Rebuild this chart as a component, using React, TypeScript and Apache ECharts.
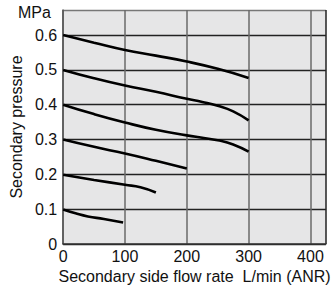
import React, { useEffect, useRef } from "react";
import * as echarts from "echarts";

const flowRates06 = [0, 50, 100, 150, 200, 250, 300];
const pressure06 = [0.6, 0.578, 0.557, 0.541, 0.524, 0.503, 0.477];
const flowRates05 = [0, 50, 100, 150, 200, 225, 250, 275, 300];
const pressure05 = [0.5, 0.476, 0.455, 0.437, 0.417, 0.408, 0.397, 0.381, 0.355];
const flowRates04 = [0, 50, 100, 150, 200, 225, 250, 275, 300];
const pressure04 = [0.4, 0.373, 0.349, 0.328, 0.312, 0.305, 0.298, 0.286, 0.265];
const flowRates03 = [0, 50, 100, 150, 200];
const pressure03 = [0.3, 0.279, 0.26, 0.239, 0.217];
const flowRates02 = [0, 50, 100, 125, 150];
const pressure02 = [0.199, 0.184, 0.17, 0.163, 0.148];
const flowRates01 = [0, 20, 40, 66, 97];
const pressure01 = [0.099, 0.088, 0.079, 0.072, 0.062];

const xTicks = [0, 100, 200, 300, 400];
const yTicks = [0, 0.1, 0.2, 0.3, 0.4, 0.5, 0.6];

const FONT = "'Liberation Sans', Arial, Helvetica, sans-serif";

const pairs = (xs: number[], ys: number[]) => xs.map((x, i) => [x, ys[i]]);

export default function App() {
  const ref = useRef<HTMLDivElement>(null);
  useEffect(() => {
    document.body.style.margin = "0";
    const chart = echarts.init(ref.current!, null, { renderer: "svg" });
    const curves = [
      pairs(flowRates06, pressure06),
      pairs(flowRates05, pressure05),
      pairs(flowRates04, pressure04),
      pairs(flowRates03, pressure03),
      pairs(flowRates02, pressure02),
      pairs(flowRates01, pressure01),
    ];
    chart.setOption({
      animation: false,
      grid: {
        left: 58,
        right: 1,
        top: 10,
        bottom: 47,
        show: true,
        backgroundColor: "#e6e6e7",
        borderWidth: 0,
      },
      xAxis: {
        type: "value",
        min: 0,
        max: 425,
        interval: 100,
        name: "Secondary side flow rate  L/min (ANR)",
        nameLocation: "middle",
        nameGap: 23,
        nameTextStyle: { fontFamily: FONT, fontSize: 16, color: "#111" },
        axisLine: { show: true, lineStyle: { color: "#333", width: 1.5 } },
        axisTick: { show: false },
        axisLabel: {
          showMaxLabel: false,
          fontFamily: FONT,
          fontSize: 16,
          color: "#111",
          margin: 4,
          formatter: (v: number) => (xTicks.includes(v) ? String(v) : ""),
        },
        splitLine: {
          show: true,
          lineStyle: {
            color: ["#6a6a6a", "#6a6a6a", "#6a6a6a", "#6a6a6a", "#6a6a6a", "#222"],
            width: 1.5,
          },
        },
      },
      yAxis: {
        type: "value",
        min: 0,
        max: 0.672,
        interval: 0.1,
        name: "Secondary pressure",
        nameLocation: "middle",
        nameGap: 38,
        nameTextStyle: { fontFamily: FONT, fontSize: 16, color: "#111" },
        axisLine: { show: true, lineStyle: { color: "#555", width: 1.5 } },
        axisTick: { show: false },
        axisLabel: {
          showMaxLabel: false,
          fontFamily: FONT,
          fontSize: 16,
          color: "#111",
          margin: 6,
          formatter: (v: number) => {
            const r = Math.round(v * 10) / 10;
            if (!yTicks.some((t) => Math.abs(t - v) < 1e-6)) return "";
            return r === 0 ? "0" : r.toFixed(1);
          },
        },
        splitLine: {
          show: true,
          lineStyle: {
            color: ["#222", "#222", "#222", "#222", "#222", "#222", "#222", "#777"],
            width: 1.3,
          },
        },
      },
      graphic: [
        {
          type: "text",
          left: 18,
          top: 4,
          style: { text: "MPa", fontFamily: FONT, fontSize: 16, fill: "#111" },
        },
      ],
      series: curves.map((d) => ({
        type: "line",
        data: d,
        smooth: 0.5,
        symbol: "none",
        lineStyle: { color: "#000", width: 2.6 },
      })),
    });
    return () => chart.dispose();
  }, []);
  return <div ref={ref} style={{ width: 331, height: 291 }} />;
}
